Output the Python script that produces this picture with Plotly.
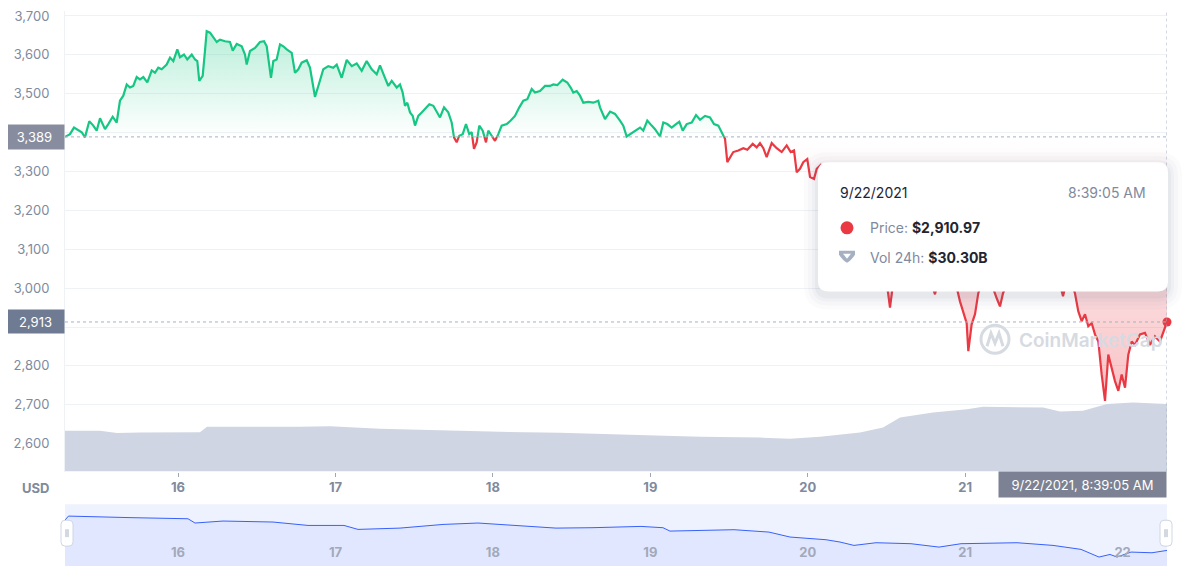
import numpy as np
import pandas as pd
import plotly.graph_objects as go

# ---------------- data ----------------
start = pd.Timestamp("2021-09-15 06:46")

price_hours = [0, 0.76, 1.37, 2.03, 2.55, 3.05, 3.70, 4.31, 4.83, 5.34, 6.10, 6.60, 7.27, 7.88, 8.38, 8.89,
               9.41, 9.91, 10.41, 10.93, 11.43, 11.94, 12.55, 13.22, 13.72, 14.22, 14.74, 15.50, 16.01, 16.51,
               17.12, 17.53, 18.14, 18.64, 19.32, 19.82, 20.17, 20.47, 20.99, 21.34, 21.60, 22.11, 22.61, 23.13,
               23.63, 24.39, 25.15, 25.57, 26.18, 26.94, 27.44, 27.70, 28.20, 28.97, 29.73, 30.34, 30.75, 31.15,
               31.40, 31.76, 32.27, 32.78, 33.28, 33.80, 34.56, 35.06, 35.57, 36.08, 36.85, 37.35, 37.76, 38.11,
               38.62, 39.38, 40.14, 40.90, 41.42, 42.18, 42.95, 43.71, 44.47, 45.23, 45.99, 46.76, 47.52, 48.02,
               48.78, 49.29, 49.81, 50.57, 51.07, 51.48, 51.83, 52.18, 52.60, 53.01, 53.36, 53.86, 54.38, 54.88,
               55.54, 56.15, 56.67, 57.17, 57.78, 58.43, 58.95, 59.30, 59.71, 60.11, 60.63, 61.13, 61.63, 62.00,
               62.35, 62.76, 63.16, 63.68, 64.18, 64.53, 65.05, 65.55, 66.06, 66.57, 67.34, 67.95, 68.60, 69.26,
               69.87, 70.48, 71.15, 71.65, 72.41, 73.18, 73.94, 74.44, 75.05, 75.87, 76.57, 77.09, 77.49, 78.01,
               78.51, 79.02, 79.78, 80.54, 81.30, 81.56, 82.32, 83.09, 83.85, 84.61, 85.11, 85.63, 86.13, 86.90,
               87.66, 88.16, 88.77, 89.44, 89.95, 90.71, 91.21, 91.82, 92.49, 93.15, 93.65, 94.17, 94.78, 95.54,
               96.20, 96.81, 97.57, 98.33, 98.94, 99.60, 100.27, 100.62, 100.97, 101.38, 101.88, 102.65, 103.41,
               104.02, 104.84, 105.45, 105.95, 106.46, 106.97, 107.74, 108.50, 109.26, 110.02, 110.63, 111.14,
               111.55, 112.05, 112.55, 113.16, 113.58, 114.19, 114.60, 115.21, 116.32, 117.54, 118.91, 120.44,
               121.96, 123.48, 124.85, 125.46, 125.77, 126.23, 127.30, 128.82, 130.35, 131.57, 132.63, 133.40,
               134.61, 135.68, 136.44, 137.05, 137.46, 137.71, 138.22, 138.73, 139.23, 140.25, 141.17, 142.04,
               142.54, 143.00, 144.07, 145.59, 147.11, 148.64, 150.16, 151.38, 152.15, 152.76, 153.52, 153.97,
               154.48, 154.99, 155.50, 156.00, 156.52, 157.02, 157.53, 158.04, 158.55, 159.05, 159.57, 160.07,
               160.58, 161.09, 161.60, 162.10, 162.62, 163.12, 163.88, 164.64, 165.40, 166.16, 166.93, 167.43,
               168.00]

price_usd = [3389, 3396, 3413, 3407, 3401, 3388, 3429, 3418, 3405, 3437, 3409, 3422, 3441, 3426, 3482, 3495,
             3524, 3516, 3520, 3543, 3537, 3543, 3529, 3560, 3554, 3567, 3563, 3575, 3593, 3584,
             3614, 3594, 3601, 3588, 3601, 3588, 3584, 3533, 3546, 3610, 3661, 3657, 3644, 3633,
             3639, 3635, 3633, 3611, 3628, 3622, 3601, 3575, 3610, 3618, 3633, 3635, 3622, 3575,
             3541, 3584, 3588, 3627, 3622, 3614, 3605, 3554, 3563, 3580, 3586, 3567, 3529, 3492,
             3520, 3563, 3571, 3567, 3575, 3541, 3587, 3571, 3578, 3559, 3584, 3563, 3550, 3573,
             3541, 3520, 3533, 3516, 3524, 3503, 3469, 3477, 3452, 3443, 3418, 3443, 3452, 3460,
             3473, 3469, 3452, 3439, 3465, 3452, 3426, 3388, 3375, 3392, 3396, 3422, 3396, 3401,
             3358, 3375, 3418, 3405, 3375, 3405, 3392, 3379, 3396, 3418, 3422, 3431, 3443, 3465,
             3482, 3486, 3512, 3503, 3507, 3520, 3520, 3524, 3522, 3536, 3529, 3516, 3503, 3507,
             3495, 3477, 3479, 3477, 3482, 3465, 3435, 3454, 3448, 3431, 3418, 3390, 3396, 3405,
             3413, 3405, 3431, 3418, 3409, 3390, 3426, 3422, 3413, 3422, 3428, 3405, 3422, 3426,
             3445, 3433, 3443, 3439, 3422, 3418, 3396, 3384, 3324, 3337, 3350, 3354, 3360,
             3356, 3371, 3362, 3373, 3360, 3337, 3373, 3360, 3350, 3367, 3350, 3354,
             3298, 3307, 3324, 3332, 3286, 3281, 3307, 3317, 3290, 3255, 3220, 3180,
             3130, 3085, 3030, 2990, 2950, 3010, 3050, 3075, 3060, 3040, 2984, 3040,
             3065, 3020, 2966, 2930, 2910, 2838, 2907, 2933, 2987, 3035, 3015, 2974,
             2953, 2987, 3030, 3055, 3075, 3060, 3045, 3030, 2979, 3025, 3010, 2987,
             2940, 2915, 2933, 2902, 2910, 2881, 2863, 2778, 2710, 2829, 2795, 2761,
             2736, 2778, 2744, 2829, 2863, 2854, 2881, 2885, 2854, 2876, 2863, 2889,
             2913]

vol_hours = [0, 5.34, 7.93, 11.43, 20.58, 21.65, 35.83, 40.40, 48.02, 54.12, 66.32, 75.46, 84.61, 96.81,
             105.95, 110.53, 115.10, 119.68, 121.20, 124.71, 127.30, 132.33, 137.51, 139.95, 145.13,
             149.10, 151.69, 155.20, 158.86, 162.82, 168.00]
vol_24h_bn = [18.3, 18.3, 17.2, 17.5, 17.6, 20.1, 20.1, 20.3, 19.2, 18.7, 17.8, 17.4, 16.5, 15.6,
              15.2, 14.7, 15.6, 16.9, 17.5, 19.7, 24.2, 26.4, 27.9, 29.0, 28.7,
              28.7, 26.9, 27.2, 30.2, 30.9, 30.3]

nav_hours = [0, 0.53, 10.06, 18.75, 19.82, 24.09, 31.71, 37.05, 42.53, 44.67, 51.07, 57.63, 62.96, 69.52,
             74.85, 80.34, 87.81, 91.16, 92.23, 101.99, 107.32, 110.53, 116.01, 118.15, 120.28, 123.64,
             128.97, 133.24, 136.60, 145.13, 150.62, 154.89, 157.63, 159.31, 160.38, 162.51, 165.71, 168.00]
nav_price = [3290, 3419, 3368, 3332, 3194, 3258, 3226, 3116, 3116, 2987, 3029, 3148, 3194, 3116,
             3029, 3042, 3084, 3042, 2932, 2977, 2900, 2739, 2652, 2577, 2468, 2555,
             2523, 2413, 2523, 2555, 2468, 2339, 2090, 2174, 2090, 2252, 2229, 2306]

tick_days = ["2021-09-16", "2021-09-17", "2021-09-18", "2021-09-19", "2021-09-20", "2021-09-21", "2021-09-22"]
tick_text = ["16", "17", "18", "19", "20", "21", "22"]
price_ticks = [2600, 2700, 2800, 2900, 3000, 3100, 3200, 3300, 3400, 3500, 3600, 3700]

tooltip_date = "9/22/2021"
tooltip_time = "8:39:05 AM"
tooltip_price = "$2,910.97"
tooltip_vol = "$30.30B"
cursor_label = "9/22/2021, 8:39:05 AM"

# ---------------- colours ----------------
GREEN = "#16c784"
RED = "#ea3943"
GRAY_TXT = "#808a9d"
GRID = "#eff2f5"
VOL = "#cfd5e2"
NAV_BLUE = "#3861fb"

# ---------------- geometry helpers (screen pixels; page body has an 8px margin) ----------------
OFF = 8
W, H = 1192 - OFF, 574 - OFF
L, R, T, B = 65 - OFF, 25, 0, 8
PW, PH = W - L - R, H - T - B
SCREEN_BOTTOM = OFF + H - B  # screen y of paper y=0


def px(x):
    return (x - (L + OFF)) / PW


def py(y):
    return (SCREEN_BOTTOM - y) / PH


main_bottom = py(471)
nav_top = py(504)

# ---------------- derived series ----------------
hrs = np.array(price_hours, float)
ys = np.array(price_usd, float)
base = ys[0]
last = ys[-1]

hx, hy = [hrs[0]], [ys[0]]
for i in range(1, len(ys)):
    a, b = ys[i - 1], ys[i]
    if (a - base) * (b - base) < 0:
        f = (base - a) / (b - a)
        hx.append(hrs[i - 1] + f * (hrs[i] - hrs[i - 1]))
        hy.append(base)
    hx.append(hrs[i])
    hy.append(b)
hx = np.array(hx)
hy = np.array(hy)
t = start + pd.to_timedelta(hx, unit="h")
green = np.where(hy >= base, hy, np.nan)
red = np.where(hy <= base, hy, np.nan)
up = np.maximum(hy, base)
dn = np.minimum(hy, base)
t_end = start + pd.to_timedelta(price_hours[-1], unit="h")

tv = start + pd.to_timedelta(vol_hours, unit="h")
tn = start + pd.to_timedelta(nav_hours, unit="h")

fig = go.Figure()

# volume
fig.add_trace(go.Scatter(x=tv, y=vol_24h_bn, yaxis="y2", mode="lines", line=dict(width=0),
                         fill="tozeroy", fillcolor=VOL, hoverinfo="skip", showlegend=False))
# green fill
fig.add_trace(go.Scatter(x=t, y=np.full(len(t), base), mode="lines", line=dict(width=0),
                         hoverinfo="skip", showlegend=False))
fig.add_trace(go.Scatter(x=t, y=up, mode="lines", line=dict(width=0), fill="tonexty",
                         fillgradient=dict(type="vertical", start=base, stop=3700,
                                           colorscale=[[0, "rgba(22,199,132,0)"], [1, "rgba(22,199,132,0.34)"]]),
                         hoverinfo="skip", showlegend=False))
# red fill
fig.add_trace(go.Scatter(x=t, y=np.full(len(t), base), mode="lines", line=dict(width=0),
                         hoverinfo="skip", showlegend=False))
fig.add_trace(go.Scatter(x=t, y=dn, mode="lines", line=dict(width=0), fill="tonexty",
                         fillgradient=dict(type="vertical", start=2700, stop=base,
                                           colorscale=[[0, "rgba(234,57,67,0.32)"], [1, "rgba(234,57,67,0)"]]),
                         hoverinfo="skip", showlegend=False))
# lines
fig.add_trace(go.Scatter(x=t, y=green, mode="lines", line=dict(color=GREEN, width=2.2),
                         connectgaps=False, showlegend=False))
fig.add_trace(go.Scatter(x=t, y=red, mode="lines", line=dict(color=RED, width=2.2),
                         connectgaps=False, showlegend=False))
fig.add_trace(go.Scatter(x=[t_end], y=[last], mode="markers", cliponaxis=False,
                         marker=dict(color=RED, size=9), showlegend=False))

# navigator
fig.add_trace(go.Scatter(x=tn, y=nav_price, xaxis="x2", yaxis="y3", mode="lines",
                         line=dict(color=NAV_BLUE, width=1), fill="tozeroy",
                         fillcolor="rgba(56,97,251,0.07)", hoverinfo="skip", showlegend=False))

shapes = []
# nav background
shapes.append(dict(type="rect", xref="x2 domain", yref="y3 domain", x0=0, x1=1, y0=0, y1=1,
                   fillcolor="#eef2fe", line=dict(width=0), layer="below"))
# reference lines
shapes.append(dict(type="line", xref="x domain", yref="y", x0=0, x1=1, y0=base, y1=base,
                   line=dict(color="#a6b0c3", width=1, dash="dot"), layer="above"))
shapes.append(dict(type="line", xref="x domain", yref="y", x0=0, x1=1, y0=last, y1=last,
                   line=dict(color="#a6b0c3", width=1, dash="dot"), layer="above"))
shapes.append(dict(type="line", xref="x", yref="paper", x0=t_end, x1=t_end, y0=main_bottom, y1=1,
                   line=dict(color="#a6b0c3", width=1, dash="dot"), layer="above"))


def rrect(x0, y0, x1, y1, r):
    pts = [
        f"M{px(x0 + r)},{py(y0)}", f"L{px(x1 - r)},{py(y0)}", f"Q{px(x1)},{py(y0)} {px(x1)},{py(y0 + r)}",
        f"L{px(x1)},{py(y1 - r)}", f"Q{px(x1)},{py(y1)} {px(x1 - r)},{py(y1)}",
        f"L{px(x0 + r)},{py(y1)}", f"Q{px(x0)},{py(y1)} {px(x0)},{py(y1 - r)}",
        f"L{px(x0)},{py(y0 + r)}", f"Q{px(x0)},{py(y0)} {px(x0 + r)},{py(y0)}", "Z"]
    return " ".join(pts)


# tooltip shadow + box
for grow, alpha in [(14, 0.025), (10, 0.03), (6, 0.04), (3, 0.05)]:
    shapes.append(dict(type="path", xref="paper", yref="paper",
                       path=rrect(818 - grow, 160 - grow + 4, 1168 + grow, 290 + grow + 4, 10 + grow),
                       fillcolor=f"rgba(88,102,126,{alpha})", line=dict(width=0), layer="above"))
shapes.append(dict(type="path", xref="paper", yref="paper", path=rrect(818, 160, 1168, 290, 10),
                   fillcolor="white", line=dict(width=0), layer="above"))
# tooltip icons
shapes.append(dict(type="circle", xref="paper", yref="paper", x0=px(840.5), x1=px(853.5),
                   y0=py(232.5), y1=py(219.5), fillcolor=RED, line=dict(width=0), layer="above"))
shapes.append(dict(type="path", xref="paper", yref="paper",
                   path=f"M{px(839)},{py(249)} L{px(855)},{py(249)} L{px(855)},{py(253)} "
                        f"Q{px(851)},{py(259)} {px(847)},{py(261)} Q{px(843)},{py(259)} {px(839)},{py(253)} Z",
                   fillcolor="#a6b0c3", line=dict(width=0), layer="above"))
shapes.append(dict(type="path", xref="paper", yref="paper",
                   path=f"M{px(843)},{py(252)} L{px(851)},{py(252)} L{px(847)},{py(257)} Z",
                   fillcolor="white", line=dict(width=0), layer="above"))
# watermark logo
shapes.append(dict(type="circle", xref="paper", yref="paper", x0=px(981), x1=px(1009),
                   y0=py(352), y1=py(324), line=dict(color="#d6dae1", width=3), layer="above"))
shapes.append(dict(type="path", xref="paper", yref="paper",
                   path=f"M{px(987)},{py(345)} L{px(991)},{py(332)} L{px(995)},{py(342)} "
                        f"L{px(999)},{py(332)} L{px(1003)},{py(345)}",
                   line=dict(color="#d6dae1", width=3), layer="above"))
# navigator handles
for hx0 in (61, 1160):
    shapes.append(dict(type="path", xref="paper", yref="paper", path=rrect(hx0, 520, hx0 + 12, 546, 4),
                       fillcolor="white", line=dict(color="#cfd6e4", width=1), layer="above"))
    for lx in (hx0 + 5, hx0 + 7):
        shapes.append(dict(type="line", xref="paper", yref="paper", x0=px(lx), x1=px(lx),
                           y0=py(529), y1=py(537), line=dict(color="#a6b0c3", width=1), layer="above"))

FONT = "Inter, Roboto, sans-serif"
ann = []
ann.append(dict(xref="paper", yref="y", x=0, y=base, xanchor="right", yanchor="middle",
                text=f"{base:,.0f}", showarrow=False, bgcolor="#878d9e", width=55, height=20,
                borderpad=2, font=dict(color="white", size=13, family=FONT)))
ann.append(dict(xref="paper", yref="y", x=0, y=last, xanchor="right", yanchor="middle",
                text=f"{last:,.0f}", showarrow=False, bgcolor="#6f7b92", width=53, height=19,
                borderpad=2, font=dict(color="white", size=13, family=FONT)))
ann.append(dict(xref="paper", yref="paper", x=1, y=py(484.5), xanchor="right", yanchor="middle",
                text=cursor_label, showarrow=False, bgcolor="#7c8293", width=163, height=21,
                borderpad=2, font=dict(color="white", size=13, family=FONT)))
ann.append(dict(xref="paper", yref="paper", x=px(35), y=py(488), xanchor="center", yanchor="middle",
                text="<b>USD</b>", showarrow=False, font=dict(color=GRAY_TXT, size=13, family=FONT)))
ann.append(dict(xref="paper", yref="paper", x=px(838), y=py(190), xanchor="left", yanchor="middle",
                text=tooltip_date, showarrow=False, font=dict(color="#222531", size=14, family=FONT)))
ann.append(dict(xref="paper", yref="paper", x=px(1148), y=py(190), xanchor="right", yanchor="middle",
                text=tooltip_time, showarrow=False, font=dict(color=GRAY_TXT, size=14, family=FONT)))
ann.append(dict(xref="paper", yref="paper", x=px(868), y=py(226), xanchor="left", yanchor="middle",
                text=f"<span style='color:{GRAY_TXT}'>Price:</span> <b>{tooltip_price}</b>", showarrow=False,
                font=dict(color="#222531", size=14, family=FONT)))
ann.append(dict(xref="paper", yref="paper", x=px(868), y=py(256), xanchor="left", yanchor="middle",
                text=f"<span style='color:{GRAY_TXT}'>Vol 24h:</span> <b>{tooltip_vol}</b>", showarrow=False,
                font=dict(color="#222531", size=14, family=FONT)))
ann.append(dict(xref="paper", yref="paper", x=px(1017), y=py(339), xanchor="left", yanchor="middle",
                text="CoinMarketCap", showarrow=False,
                font=dict(color="#d6dae1", size=19, family=FONT, weight=600)))

# y tick labels hidden where the price boxes sit (as in the reference)
price_ticktext = ["" if abs(v - base) < 40 or abs(v - last) < 40 else f"{v:,}" for v in price_ticks]

y_top = 3700 + (13 - OFF) / 0.3909
fig.update_layout(
    width=W, height=H, margin=dict(l=L, r=R, t=T, b=B),
    plot_bgcolor="white", paper_bgcolor="white", hovermode=False, showlegend=False,
    font=dict(family=FONT, color=GRAY_TXT),
    xaxis=dict(domain=[0, 1], anchor="y", type="date", range=[start, t_end],
               tickvals=tick_days[:-1], ticktext=tick_text[:-1], ticks="outside", ticklen=4,
               tickcolor="#a1a7bb", showgrid=False, zeroline=False, showline=False,
               tickfont=dict(size=13, color=GRAY_TXT, family=FONT, weight="bold")),
    yaxis=dict(domain=[main_bottom, 1], anchor="x", range=[2528.4, y_top], tickvals=price_ticks,
               ticktext=price_ticktext, showgrid=True, gridcolor=GRID, zeroline=False, showline=True,
               linecolor=GRID, ticks="", ticklabelstandoff=12, ticklabeloverflow="allow",
               tickfont=dict(size=13, color=GRAY_TXT, family=FONT)),
    yaxis2=dict(overlaying="y", range=[0, (471 - OFF) * 0.4456], visible=False),
    xaxis2=dict(domain=[0, 1], anchor="y3", type="date", range=[start, t_end],
                tickvals=tick_days, ticktext=tick_text, ticks="", ticklabelposition="inside",
                ticklabelstandoff=3, showgrid=False, zeroline=False, showline=False,
                tickfont=dict(size=13, color="#a1a9ba", family=FONT, weight="bold")),
    yaxis3=dict(domain=[0, nav_top], anchor="x2", range=[1800, 3800], visible=False),
    xaxis3=dict(overlaying="x2", anchor="y3", range=[-0.856, 5.266], dtick=1, showgrid=True,
                gridcolor="#dfe4f3", showticklabels=False, zeroline=False, ticks=""),
    shapes=shapes, annotations=ann,
)

fig.write_html("out.html")
